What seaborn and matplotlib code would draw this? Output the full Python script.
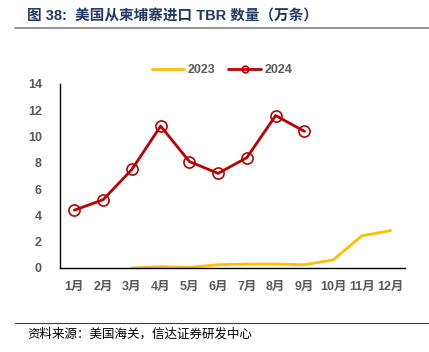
import numpy as np
import pandas as pd
import matplotlib
matplotlib.use("Agg")
import matplotlib.pyplot as plt
import seaborn as sns

# data
months = ["1月", "2月", "3月", "4月", "5月", "6月", "7月", "8月", "9月", "10月", "11月", "12月"]
imp_2023 = [np.nan, np.nan, 0.0, 0.1, 0.05, 0.25, 0.3, 0.3, 0.25, 0.62, 2.45, 2.85]
imp_2024 = [4.4, 5.2, 7.5, 10.8, 8.1, 7.2, 8.4, 11.6, 10.4, np.nan, np.nan, np.nan]

df = pd.DataFrame({"pos": np.arange(len(months)), "2023": imp_2023, "2024": imp_2024})

sns.set_theme(style="white")
plt.rcParams["font.family"] = ["Liberation Sans", "Noto Sans CJK SC"]

fig = plt.figure(figsize=(4.29, 3.52), dpi=100)
ax = fig.add_axes([60 / 429, 1 - 268 / 352, 345 / 429, 184 / 352])

sns.lineplot(data=df, x="pos", y="2023", color="#FFC000", lw=2, ax=ax, label="2023")
sns.lineplot(data=df, x="pos", y="2024", color="#C00000", lw=2, marker="o",
             markersize=8, markerfacecolor="none", markeredgecolor="#C00000",
             markeredgewidth=1.2, ax=ax, label="2024")

ax.set_xlim(-0.5, 11.5)
ax.set_ylim(0, 14)
ax.set_yticks(range(0, 15, 2))
ax.set_xticks(df["pos"])
ax.set_xticklabels(months)
ax.set_xticks(np.arange(-0.5, 12, 1), minor=True)
ax.tick_params(axis="x", which="major", length=0, pad=9)
ax.tick_params(axis="x", which="minor", length=4, width=1, color="black", direction="out")
ax.tick_params(axis="y", length=4, width=1, color="black", direction="out", pad=9)
ax.tick_params(labelsize=9, labelcolor="#595959")
for lab in ax.get_xticklabels() + ax.get_yticklabels():
    lab.set_fontweight("bold")
ax.set_xlabel("")
ax.set_ylabel("")
for s in ["top", "right"]:
    ax.spines[s].set_visible(False)
for s in ["left", "bottom"]:
    ax.spines[s].set_color("black")
    ax.spines[s].set_linewidth(1)

leg = ax.legend(loc="center", bbox_to_anchor=(0.47, 1.076), ncol=2, frameon=False,
                handlelength=2.6, columnspacing=1.0, handletextpad=0.3, markerscale=0.6,
                prop={"size": 9, "weight": "bold"})
for t in leg.get_texts():
    t.set_color("#595959")

# title and source
fig.text(27 / 429, 1 - 16 / 352, "图 38:  美国从柬埔寨进口 TBR 数量（万条）", fontsize=10.5,
         fontweight="bold", color="#1F3864", va="center", ha="left")
fig.add_artist(plt.Line2D([15 / 429, 1], [1 - 28 / 352] * 2, color="#7F7F7F", lw=1.2))
fig.add_artist(plt.Line2D([15 / 429, 1], [1 - 323 / 352] * 2, color="#404040", lw=0.8))
fig.text(27 / 429, 1 - 334 / 352, "资料来源：美国海关，信达证券研发中心", fontsize=9,
         fontstyle="italic", color="black", va="center", ha="left")

fig.savefig("out.png", dpi=100)
